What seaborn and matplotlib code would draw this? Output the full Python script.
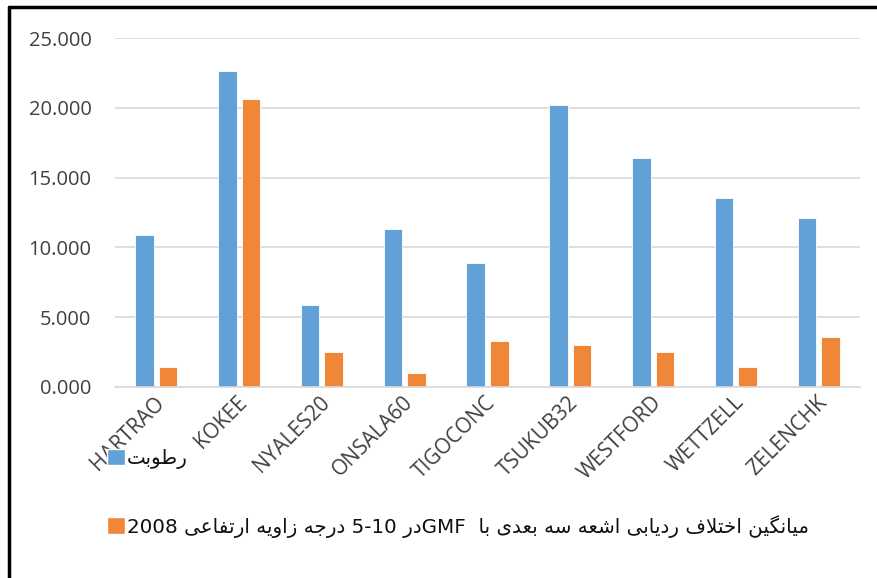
import re
import numpy as np
import pandas as pd
import matplotlib
matplotlib.use("Agg")
import matplotlib.pyplot as plt
import matplotlib.transforms as mtransforms
import seaborn as sns
from matplotlib.lines import Line2D
from matplotlib.patches import Patch

# ---------------- data ----------------
stations = ["HARTRAO", "KOKEE", "NYALES20", "ONSALA60", "TIGOCONC",
            "TSUKUB32", "WESTFORD", "WETTZELL", "ZELENCHK"]
humidity = [10.88, 22.65, 5.85, 11.34, 8.88, 20.19, 16.40, 13.56, 12.08]
gmf_diff = [1.43, 20.64, 2.53, 0.98, 3.27, 3.01, 2.53, 1.46, 3.56]
series_names = ["رطوبت",
                "میانگین اختلاف ردیابی اشعه سه بعدی با  GMFدر 5-10 درجه زاویه ارتفاعی 2008"]
y_ticks = [0, 5, 10, 15, 20, 25]
colors = ["#62A1D8", "#EF8638"]

# ---------------- minimal Arabic/Persian shaping + RTL ordering ----------------
FORMS = {
    "\u0627": (0xFE8D, 0xFE8E, None, None),
    "\u0628": (0xFE8F, 0xFE90, 0xFE91, 0xFE92),
    "\u062A": (0xFE95, 0xFE96, 0xFE97, 0xFE98),
    "\u062C": (0xFE9D, 0xFE9E, 0xFE9F, 0xFEA0),
    "\u062E": (0xFEA5, 0xFEA6, 0xFEA7, 0xFEA8),
    "\u062F": (0xFEA9, 0xFEAA, None, None),
    "\u0631": (0xFEAD, 0xFEAE, None, None),
    "\u0632": (0xFEAF, 0xFEB0, None, None),
    "\u0633": (0xFEB1, 0xFEB2, 0xFEB3, 0xFEB4),
    "\u0634": (0xFEB5, 0xFEB6, 0xFEB7, 0xFEB8),
    "\u0637": (0xFEC1, 0xFEC2, 0xFEC3, 0xFEC4),
    "\u0639": (0xFEC9, 0xFECA, 0xFECB, 0xFECC),
    "\u0641": (0xFED1, 0xFED2, 0xFED3, 0xFED4),
    "\u0644": (0xFEDD, 0xFEDE, 0xFEDF, 0xFEE0),
    "\u0645": (0xFEE1, 0xFEE2, 0xFEE3, 0xFEE4),
    "\u0646": (0xFEE5, 0xFEE6, 0xFEE7, 0xFEE8),
    "\u0647": (0xFEE9, 0xFEEA, 0xFEEB, 0xFEEC),
    "\u0648": (0xFEED, 0xFEEE, None, None),
    "\u06AF": (0xFB92, 0xFB93, 0xFB94, 0xFB95),
    "\u06A9": (0xFB8E, 0xFB8F, 0xFB90, 0xFB91),
    "\u06CC": (0xFBFC, 0xFBFD, 0xFBFE, 0xFBFF),
    "\u067E": (0xFB56, 0xFB57, 0xFB58, 0xFB59),
}


def reshape(s):
    out, i, prev_joins = [], 0, False
    while i < len(s):
        c = s[i]
        if c in FORMS:
            f = FORMS[c]
            if c == "\u0644" and i + 1 < len(s) and s[i + 1] == "\u0627":
                out.append(chr(0xFEFC if prev_joins else 0xFEFB))
                prev_joins = False
                i += 2
                continue
            nxt = s[i + 1] if i + 1 < len(s) else ""
            can_next = f[2] is not None and nxt in FORMS
            if prev_joins and can_next:
                g = f[3]
            elif prev_joins:
                g = f[1]
            elif can_next:
                g = f[2]
            else:
                g = f[0]
            out.append(chr(g))
            prev_joins = can_next
        else:
            out.append(c)
            prev_joins = False
        i += 1
    return "".join(out)


def visual(s):
    s = reshape(s)
    runs = re.split(r"([A-Za-z0-9][A-Za-z0-9.\-]*[A-Za-z0-9]|[A-Za-z0-9])", s)
    parts = [r if k % 2 else r[::-1] for k, r in enumerate(runs)]
    return "".join(parts[::-1])


# ---------------- frame ----------------
df = pd.DataFrame({
    "station": stations * 2,
    "value": humidity + gmf_diff,
    "series": [series_names[0]] * len(stations) + [series_names[1]] * len(stations),
})

sns.set_style("white")
plt.rcParams["font.family"] = ["Open Sans", "DejaVu Sans"]

fig = plt.figure(figsize=(8.78, 5.78), dpi=100)
ax = fig.add_axes([115 / 878, 1 - 387 / 578, (860 - 115) / 878, (387 - 38) / 578])

sns.barplot(data=df, x="station", y="value", hue="series", hue_order=series_names,
            order=stations, palette=colors, width=0.568, gap=0.21, ax=ax,
            edgecolor="white", linewidth=0.6, saturation=1, legend=True)

ax.set_ylim(0, 25)
ax.set_xlim(-0.5, len(stations) - 0.5)
ax.set_yticks(y_ticks)
ax.set_yticklabels([f"{t:.3f}" for t in y_ticks])
ax.yaxis.grid(True, color="#D9D9D9", linewidth=1.2)
ax.set_axisbelow(True)
for side in ["left", "right", "top"]:
    ax.spines[side].set_visible(False)
ax.spines["bottom"].set_color("#D9D9D9")
ax.spines["bottom"].set_linewidth(1.2)
ax.set_xlabel("")
ax.set_ylabel("")
ax.tick_params(axis="y", length=0, pad=17, labelsize=14.5, labelcolor="#404040")
ax.tick_params(axis="x", length=0, pad=9, labelsize=15, labelcolor="#404040")
shift = mtransforms.ScaledTranslation(5 / 100, 0, fig.dpi_scale_trans)
for lab in ax.get_xticklabels():
    lab.set_rotation(45)
    lab.set_ha("right")
    lab.set_va("center")
    lab.set_rotation_mode("anchor")
    lab.set_transform(lab.get_transform() + shift)

# legend
handles, labels = ax.get_legend_handles_labels()
ax.get_legend().remove()
leg = fig.legend(handles=[Patch(facecolor=h.get_facecolor()) for h in handles],
                 labels=[visual(l) for l in labels],
                 loc="upper left", bbox_to_anchor=(89 / 878, 1 - 431 / 578),
                 frameon=False, handlelength=0.9, handleheight=0.9,
                 handletextpad=0.12, labelspacing=2.3,
                 prop={"family": ["DejaVu Sans"], "size": 14.3})
for t in leg.get_texts():
    t.set_color("#111111")

# screenshot frame lines (left and top)
fig.add_artist(Line2D([9 / 878, 9 / 878], [0, 1 - 7 / 578], color="black", lw=2.5,
                      transform=fig.transFigure))
fig.add_artist(Line2D([9 / 878, 1], [1 - 7 / 578, 1 - 7 / 578], color="black", lw=2.5,
                      transform=fig.transFigure))

fig.savefig("out.png", dpi=100)
